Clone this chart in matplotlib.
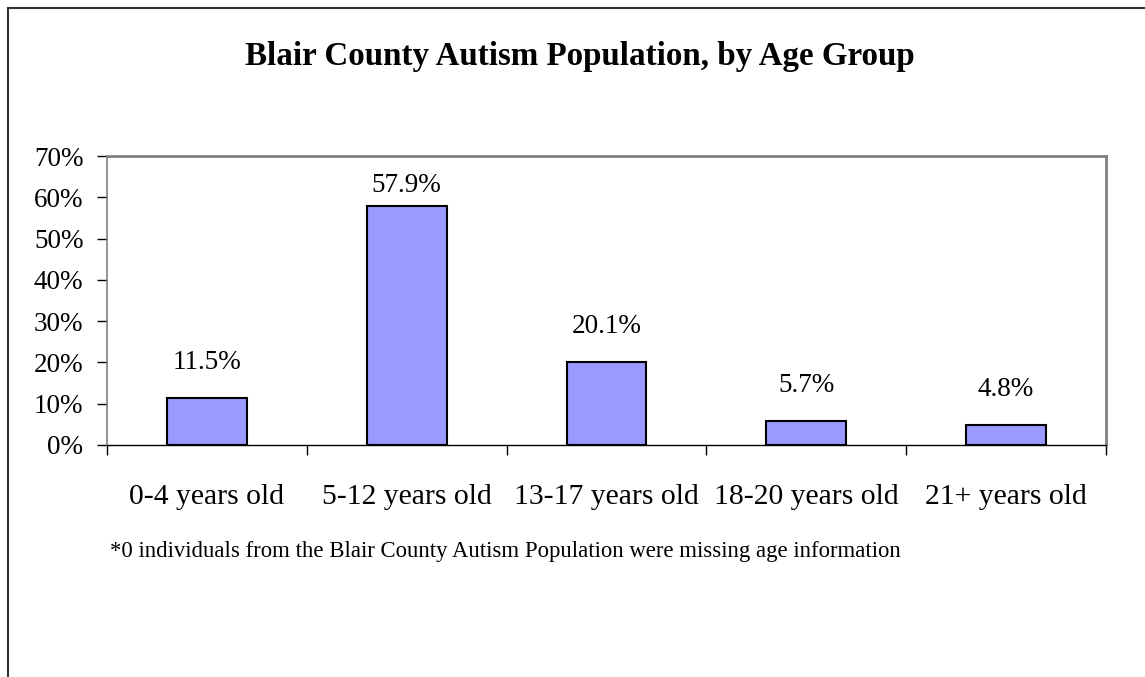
import matplotlib
matplotlib.use("Agg")
import matplotlib.pyplot as plt
from matplotlib.lines import Line2D

categories = ["0-4 years old", "5-12 years old", "13-17 years old", "18-20 years old", "21+ years old"]
values = [11.5, 57.9, 20.1, 5.7, 4.8]
yticks = [0, 10, 20, 30, 40, 50, 60, 70]
title = "Blair County Autism Population, by Age Group"
footnote = "*0 individuals from the Blair County Autism Population were missing age information"

plt.rcParams['font.family'] = ['Liberation Serif', 'DejaVu Serif']

fig = plt.figure(figsize=(11.45, 6.77), dpi=100)
ax = fig.add_axes([107/1145, 1-445/677, (1106-107)/1145, (445-156)/677])

x = list(range(len(categories)))
ax.bar(x, values, width=0.4, color="#9999FF", edgecolor="black", linewidth=1.5, zorder=3)
for xi, v in zip(x, values):
    ax.text(xi, min(v + 8.6, 62.8), f"{v:.1f}%", ha="center", va="center", fontsize=19.5)

ax.set_xlim(-0.5, len(categories) - 0.5)
ax.set_ylim(0, 70)
ax.set_yticks(yticks)
ax.set_yticklabels([f"{t}%" for t in yticks], fontsize=19.5)
ax.tick_params(axis="y", direction="out", length=7, width=1, pad=10)

# category boundary ticks
ax.set_xticks([i - 0.5 for i in range(len(categories) + 1)])
ax.set_xticklabels([""] * (len(categories) + 1))
ax.tick_params(axis="x", direction="out", length=7, width=1)
for xi, c in zip(x, categories):
    ax.annotate(c, xy=(xi, 0), xycoords=("data", "axes fraction"), xytext=(0, -37.5),
                textcoords="offset points", ha="center", va="center", fontsize=21.3)

for s in ["top", "right", "left"]:
    ax.spines[s].set_color("#808080")
    ax.spines[s].set_linewidth(2)
ax.spines["left"].set_linewidth(1.2)
ax.spines["bottom"].set_color("black")
ax.spines["bottom"].set_linewidth(1)

fig.text(580/1145, 1-57/677, title, ha="center", va="center", fontsize=23.8, fontweight="bold")
fig.text(110/1145, 1-551/677, footnote, ha="left", va="center", fontsize=16.4)

# figure border (left and top only)
fig.add_artist(Line2D([8/1145, 8/1145], [0, 1-7.5/677], color="#333333", linewidth=1.5, transform=fig.transFigure))
fig.add_artist(Line2D([8/1145, 1144/1145], [1-7.5/677, 1-7.5/677], color="#333333", linewidth=1.5, transform=fig.transFigure))

fig.savefig("out.png", dpi=100)
